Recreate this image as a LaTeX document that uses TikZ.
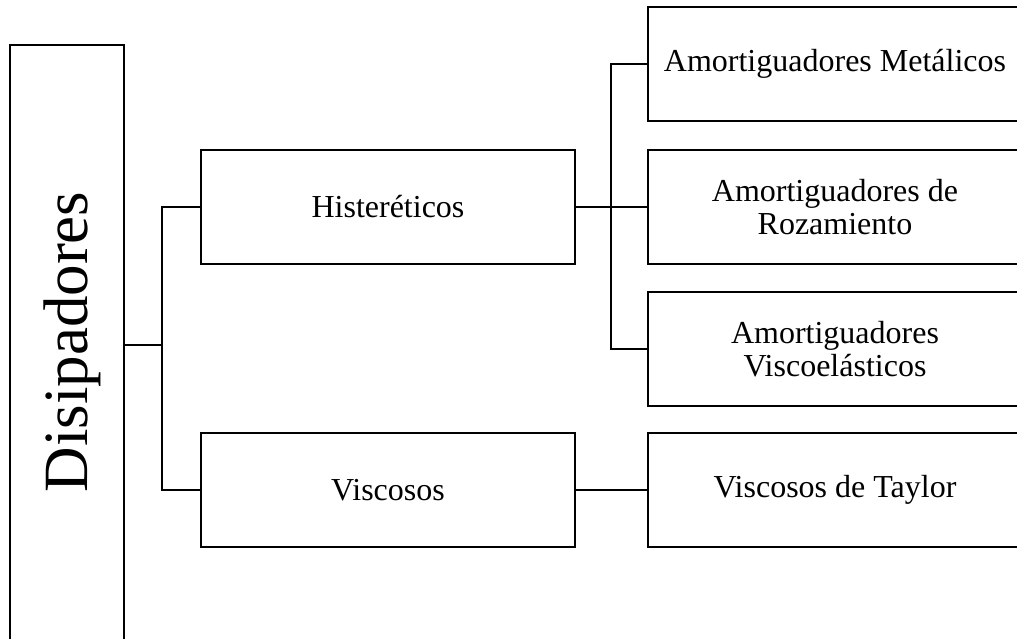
\documentclass[tikz,border=0pt]{standalone}
\usepackage{fontspec}
\setmainfont{Liberation Serif}
\begin{document}
\begin{tikzpicture}[x=1pt,y=-1pt,
  box/.style={draw,line width=2.6pt,rectangle,inner sep=0pt,align=center,
    font=\fontsize{32}{33}\selectfont},
  link/.style={line width=2.6pt}]
\useasboundingbox (0,0) rectangle (1017,639);
\clip (0,0) rectangle (1017,639);
% root
\node[box,minimum width=114,minimum height=660] (d) at (67,375) {};
\node[rotate=90,anchor=base,inner sep=0pt,font=\fontsize{63}{63}\selectfont] (dt) at (87,342) {Disipadores};
% second level
\node[box,minimum width=374,minimum height=114] (h) at (388,207) {Histeréticos};
\node[box,minimum width=374,minimum height=114] (v) at (388,490) {Viscosos};
% third level
\node[box,minimum width=374,minimum height=114] (a1) at (835,64) {Amortiguadores Metálicos};
\node[box,minimum width=374,minimum height=114] (a2) at (835,207) {Amortiguadores de\\Rozamiento};
\node[box,minimum width=374,minimum height=114] (a3) at (835,349) {Amortiguadores\\Viscoelásticos};
\node[box,minimum width=374,minimum height=114] (t) at (835,490) {Viscosos de Taylor};
% connectors
\coordinate (j1) at (162,345);
\coordinate (j2) at (611,207);
\draw[link] (j1 -| d.east) -- (j1);
\draw[link] (h.west) -| (j1) |- (v.west);
\draw[link] (h.east) -- (a2.west);
\draw[link] (a1.west) -| (j2) |- (a3.west);
\draw[link] (v.east) -- (t.west);
\end{tikzpicture}
\end{document}
